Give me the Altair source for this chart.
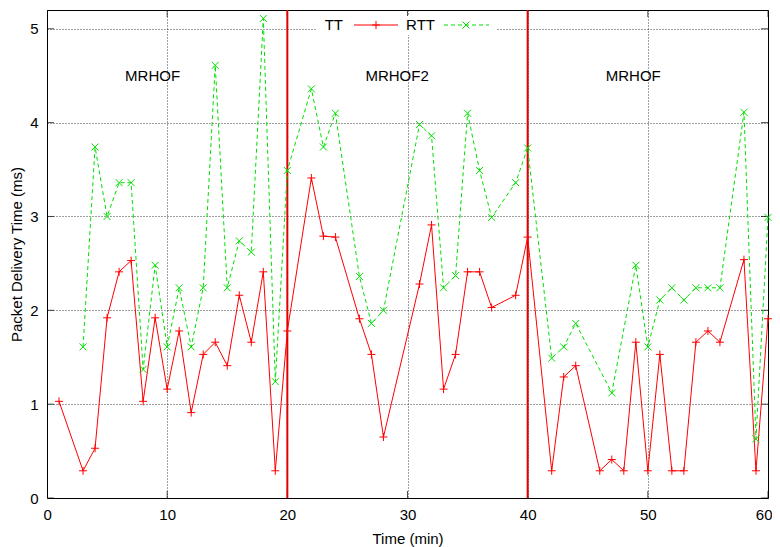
import altair as alt
import pandas as pd

# ---- data ----
tt_time = [1, 3, 4, 5, 6, 7, 8, 9, 10, 11, 12, 13, 14, 15, 16, 17, 18, 19, 20,
           22, 23, 24, 26, 27, 28, 31, 32, 33, 34, 35, 36, 37, 39, 40,
           42, 43, 44, 46, 47, 48, 49, 50, 51, 52, 53, 54, 55, 56, 58, 59, 60]
tt_value = [1.03, 0.29, 0.53, 1.92, 2.41, 2.53, 1.03, 1.92, 1.16, 1.78, 0.91, 1.53, 1.66, 1.41, 2.16, 1.66, 2.41, 0.29, 1.78,
            3.41, 2.79, 2.78, 1.91, 1.53, 0.65, 2.28, 2.91, 1.16, 1.53, 2.41, 2.41, 2.03, 2.16, 2.78,
            0.29, 1.29, 1.41, 0.29, 0.41, 0.29, 1.66, 0.29, 1.53, 0.29, 0.29, 1.66, 1.78, 1.66, 2.54, 0.29, 1.91]

rtt_time = [3, 4, 5, 6, 7, 8, 9, 10, 11, 12, 13, 14, 15, 16, 17, 18, 19, 20,
            22, 23, 24, 26, 27, 28, 31, 32, 33, 34, 35, 36, 37, 39, 40,
            42, 43, 44, 47, 49, 50, 51, 52, 53, 54, 55, 56, 58, 59, 60]
rtt_value = [1.61, 3.74, 3.0, 3.36, 3.36, 1.37, 2.48, 1.61, 2.24, 1.61, 2.24, 4.61, 2.24, 2.74, 2.62, 5.11, 1.24, 3.49,
             4.36, 3.74, 4.10, 2.36, 1.86, 2.0, 3.98, 3.86, 2.24, 2.37, 4.10, 3.49, 2.99, 3.36, 3.73,
             1.49, 1.61, 1.86, 1.12, 2.48, 1.61, 2.11, 2.24, 2.11, 2.24, 2.24, 2.24, 4.11, 0.63, 2.99]

phase_bounds = [20, 40]
phase_names = ["MRHOF", "MRHOF2", "MRHOF"]
phase_label_x = [6.5, 26.5, 46.5]
phase_label_y = [4.5, 4.5, 4.5]

x_ticks = [0, 10, 20, 30, 40, 50, 60]
y_ticks = [0, 1, 2, 3, 4, 5]

legend_names = ["TT", "RTT"]

# ---- layout ----
W, H = 721, 488
FONT = "Liberation Sans"
PLUS = "M-1,0L1,0M0,-1L0,1"
CROSS = "M-1,-1L1,1M-1,1L1,-1"
RED = "#ff0000"
GREEN = "#00e000"

tt_df = pd.DataFrame({"t": tt_time, "v": tt_value})
rtt_df = pd.DataFrame({"t": rtt_time, "v": rtt_value})
bounds_df = pd.DataFrame({"t": phase_bounds})
labels_df = pd.DataFrame({"t": phase_label_x, "v": phase_label_y, "name": phase_names})
xt_df = pd.DataFrame({"t": x_ticks})
yt_df = pd.DataFrame({"v": y_ticks})
one = pd.DataFrame({"k": [0]})

xscale = alt.Scale(domain=[0, 60], nice=False, zero=False)
yscale = alt.Scale(domain=[0, 5.2], nice=False, zero=False)

xaxis = alt.Axis(values=x_ticks, format="d", title="Time (min)", grid=True,
                 labelFlush=True, labelFlushOffset=4,
                 titleX=W / 2, titleY=40, titleBaseline="middle", labelPadding=9)
yaxis = alt.Axis(values=y_ticks, format="d", title="Packet Delivery Time (ms)", grid=True,
                 labelFlush=False,
                 titleX=-31, titleY=H / 2, titleAngle=270, titleBaseline="middle",
                 titleAlign="center", labelPadding=9)

X = alt.X("t:Q", scale=xscale, axis=xaxis)
Y = alt.Y("v:Q", scale=yscale, axis=yaxis)

bounds = alt.Chart(bounds_df).mark_rule(color="#e00000", strokeWidth=2).encode(
    x=alt.X("t:Q", scale=xscale))

tt_line = alt.Chart(tt_df).mark_line(color=RED, strokeWidth=1, clip=False).encode(x=X, y=Y)
tt_pts = alt.Chart(tt_df).mark_point(shape=PLUS, color=RED, size=64, strokeWidth=1,
                                     filled=False, opacity=1, clip=False).encode(x=X, y=Y)
rtt_line = alt.Chart(rtt_df).mark_line(color=GREEN, strokeWidth=1, strokeDash=[4, 3],
                                       clip=False).encode(x=X, y=Y)
rtt_pts = alt.Chart(rtt_df).mark_point(shape=CROSS, color=GREEN, size=49, strokeWidth=1,
                                       filled=False, opacity=1, clip=False).encode(x=X, y=Y)

labels = alt.Chart(labels_df).mark_text(font=FONT, fontSize=15, align="left",
                                        baseline="middle", color="black").encode(
    x=alt.X("t:Q", scale=xscale), y=alt.Y("v:Q", scale=yscale), text="name:N")

# inward ticks on all four sides (clipped to the frame)
tick_b = alt.Chart(xt_df).mark_tick(size=14, thickness=1, color="black", clip=True,
                                    orient="vertical").encode(
    x=alt.X("t:Q", scale=xscale), y=alt.value(H))
tick_t = alt.Chart(xt_df).mark_tick(size=14, thickness=1, color="black", clip=True,
                                    orient="vertical").encode(
    x=alt.X("t:Q", scale=xscale), y=alt.value(0))
tick_l = alt.Chart(yt_df).mark_tick(size=14, thickness=1, color="black", clip=True,
                                    orient="horizontal").encode(
    y=alt.Y("v:Q", scale=yscale), x=alt.value(0))
tick_r = alt.Chart(yt_df).mark_tick(size=14, thickness=1, color="black", clip=True,
                                    orient="horizontal").encode(
    y=alt.Y("v:Q", scale=yscale), x=alt.value(W))

# legend (gnuplot style: label then sample)
LY = 15
leg_box = alt.Chart(one).mark_rect(color="white").encode(
    x=alt.value(270), x2=alt.value(450), y=alt.value(6), y2=alt.value(25))
leg_tt_text = alt.Chart(one).mark_text(font=FONT, fontSize=15, align="right",
                                       baseline="middle", color="black", text=legend_names[0]).encode(
    x=alt.value(296), y=alt.value(LY))
leg_tt_line = alt.Chart(one).mark_rule(color=RED, strokeWidth=1).encode(
    x=alt.value(307), x2=alt.value(351), y=alt.value(LY))
leg_tt_pt = alt.Chart(one).mark_point(shape=PLUS, color=RED, size=64, strokeWidth=1,
                                      filled=False, opacity=1).encode(
    x=alt.value(329), y=alt.value(LY))
leg_rtt_text = alt.Chart(one).mark_text(font=FONT, fontSize=15, align="right",
                                        baseline="middle", color="black", text=legend_names[1]).encode(
    x=alt.value(388), y=alt.value(LY))
leg_rtt_line = alt.Chart(one).mark_rule(color=GREEN, strokeWidth=1, strokeDash=[4, 3]).encode(
    x=alt.value(397), x2=alt.value(442), y=alt.value(LY))
leg_rtt_pt = alt.Chart(one).mark_point(shape=CROSS, color=GREEN, size=49, strokeWidth=1,
                                       filled=False, opacity=1).encode(
    x=alt.value(419), y=alt.value(LY))

chart = alt.layer(
    tick_b, tick_t, tick_l, tick_r,
    bounds, tt_line, tt_pts, rtt_line, rtt_pts, labels,
    leg_box, leg_tt_text, leg_tt_line, leg_tt_pt, leg_rtt_text, leg_rtt_line, leg_rtt_pt,
).properties(
    width=W, height=H,
    autosize=alt.AutoSizeParams(type="none"),
    padding={"left": 39, "top": 2, "right": 4, "bottom": 49},
).configure_view(
    stroke="black", strokeWidth=1
).configure_axis(
    domain=False, ticks=False, grid=True, gridColor="#000000", gridDash=[1, 2],
    gridOpacity=0.75, gridWidth=1,
    labelFont=FONT, labelFontSize=15, labelColor="black",
    titleFont=FONT, titleFontSize=15, titleFontWeight="normal", titleColor="black",
)

chart.save("out.html", embed_options={"renderer": "svg", "actions": False})
